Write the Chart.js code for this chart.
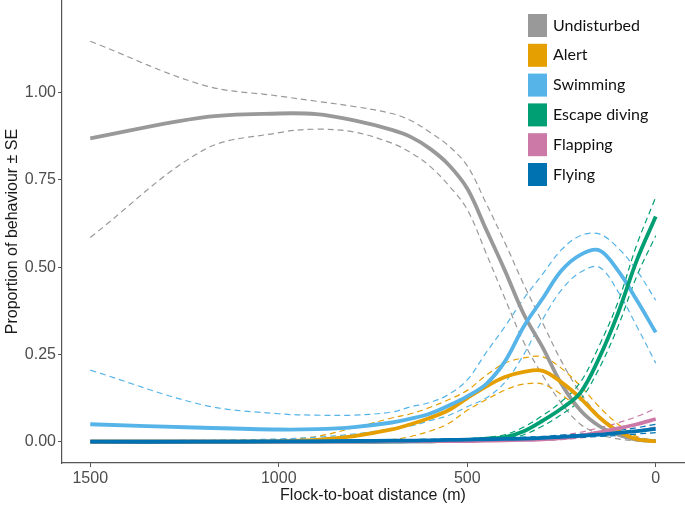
<!DOCTYPE html>
<html>
<head>
<meta charset="utf-8">
<script src="https://cdn.jsdelivr.net/npm/chart.js@4"></script>
<style>
  html, body { margin: 0; padding: 0; background: #fff; }
  #chart { display: block; }
</style>
</head>
<body>
<canvas id="chart" width="685" height="509"></canvas>
<script>
// Flock-to-boat distance (m), from far to near
const distances = [1500, 1200, 1000, 900, 800, 700, 650, 600, 550, 500, 450, 400, 350, 300, 250, 200, 150, 100, 50, 0];

const behaviours = ['Undisturbed', 'Alert', 'Swimming', 'Escape diving', 'Flapping', 'Flying'];
const colours = ['#999999', '#E69F00', '#56B4E9', '#009E73', '#CC79A7', '#0072B2'];

// mean proportion per behaviour
const undisturbed = [0.869, 0.929, 0.940, 0.938, 0.920, 0.893, 0.873, 0.840, 0.794, 0.725, 0.608, 0.490, 0.365, 0.270, 0.165, 0.090, 0.045, 0.020, 0.006, 0.002];
const alert       = [0.000, 0.000, 0.001, 0.005, 0.016, 0.035, 0.050, 0.068, 0.090, 0.125, 0.158, 0.185, 0.200, 0.203, 0.170, 0.125, 0.070, 0.030, 0.007, 0.001];
const swimming    = [0.050, 0.040, 0.035, 0.036, 0.042, 0.055, 0.066, 0.080, 0.103, 0.130, 0.165, 0.230, 0.330, 0.410, 0.490, 0.535, 0.548, 0.490, 0.405, 0.313];
const escape      = [0.000, 0.000, 0.000, 0.000, 0.000, 0.000, 0.001, 0.001, 0.003, 0.005, 0.009, 0.013, 0.030, 0.060, 0.095, 0.140, 0.240, 0.368, 0.520, 0.645];
const flapping    = [0.000, 0.000, 0.000, 0.000, 0.000, 0.001, 0.001, 0.001, 0.002, 0.002, 0.003, 0.004, 0.005, 0.007, 0.010, 0.017, 0.027, 0.038, 0.050, 0.065];
const flying      = [0.000, 0.000, 0.001, 0.001, 0.002, 0.003, 0.003, 0.004, 0.005, 0.006, 0.007, 0.008, 0.009, 0.011, 0.014, 0.017, 0.020, 0.025, 0.030, 0.037];

// mean + SE
const undisturbedHi = [1.147, 1.021, 0.990, 0.975, 0.960, 0.940, 0.920, 0.887, 0.848, 0.790, 0.683, 0.570, 0.450, 0.340, 0.230, 0.140, 0.075, 0.035, 0.012, 0.004];
const alertHi       = [0.000, 0.002, 0.006, 0.015, 0.040, 0.068, 0.080, 0.098, 0.120, 0.147, 0.190, 0.225, 0.240, 0.243, 0.210, 0.160, 0.100, 0.050, 0.015, 0.003];
const swimmingHi    = [0.205, 0.105, 0.080, 0.076, 0.076, 0.085, 0.100, 0.112, 0.135, 0.177, 0.255, 0.330, 0.410, 0.480, 0.550, 0.590, 0.595, 0.555, 0.490, 0.405];
const escapeHi      = [0.001, 0.001, 0.001, 0.001, 0.001, 0.002, 0.002, 0.003, 0.005, 0.008, 0.012, 0.020, 0.042, 0.075, 0.115, 0.170, 0.275, 0.400, 0.565, 0.700];
const flappingHi    = [0.001, 0.001, 0.001, 0.001, 0.002, 0.002, 0.002, 0.003, 0.003, 0.003, 0.005, 0.006, 0.008, 0.012, 0.018, 0.027, 0.040, 0.054, 0.072, 0.095];
const flyingHi      = [0.002, 0.002, 0.003, 0.003, 0.004, 0.005, 0.006, 0.007, 0.008, 0.009, 0.010, 0.011, 0.013, 0.015, 0.019, 0.022, 0.026, 0.032, 0.040, 0.050];

// mean - SE
const undisturbedLo = [0.585, 0.835, 0.885, 0.895, 0.887, 0.855, 0.828, 0.790, 0.735, 0.665, 0.540, 0.410, 0.285, 0.190, 0.110, 0.050, 0.022, 0.008, 0.002, 0.000];
const alertLo       = [0.000, 0.000, 0.000, 0.001, 0.002, 0.006, 0.015, 0.030, 0.052, 0.090, 0.120, 0.148, 0.165, 0.165, 0.135, 0.090, 0.045, 0.018, 0.003, 0.000];
const swimmingLo    = [0.003, 0.004, 0.008, 0.013, 0.022, 0.037, 0.045, 0.060, 0.075, 0.100, 0.125, 0.170, 0.250, 0.350, 0.435, 0.485, 0.500, 0.430, 0.330, 0.225];
const escapeLo      = [0.000, 0.000, 0.000, 0.000, 0.000, 0.000, 0.000, 0.000, 0.001, 0.003, 0.005, 0.008, 0.020, 0.045, 0.078, 0.120, 0.210, 0.330, 0.475, 0.590];
const flappingLo    = [0.000, 0.000, 0.000, 0.000, 0.000, 0.000, 0.000, 0.000, 0.001, 0.001, 0.001, 0.002, 0.003, 0.004, 0.006, 0.011, 0.018, 0.025, 0.033, 0.042];
const flyingLo      = [0.000, 0.000, 0.000, 0.000, 0.001, 0.001, 0.001, 0.002, 0.002, 0.003, 0.004, 0.005, 0.006, 0.008, 0.010, 0.012, 0.015, 0.018, 0.022, 0.026];

const xTicks = [0, 500, 1000, 1500];
const yTicks = [0, 0.25, 0.5, 0.75, 1.0];

const means = [undisturbed, alert, swimming, escape, flapping, flying];
const highs = [undisturbedHi, alertHi, swimmingHi, escapeHi, flappingHi, flyingHi];
const lows  = [undisturbedLo, alertLo, swimmingLo, escapeLo, flappingLo, flyingLo];

function toPoints(values) {
    return distances.map((d, i) => ({ x: d, y: values[i] }));
}

// dashed SE lines first, solid means on top
const datasets = [];
behaviours.forEach((name, b) => {
    [highs[b], lows[b]].forEach(vals => {
        datasets.push({
            label: name + ' SE',
            data: toPoints(vals),
            borderColor: colours[b],
            borderWidth: 1.2,
            borderDash: [6, 4],
            pointRadius: 0,
            tension: 0.35
        });
    });
});
behaviours.forEach((name, b) => {
    datasets.push({
        label: name,
        data: toPoints(means[b]),
        borderColor: colours[b],
        borderWidth: 3.8,
        pointRadius: 0,
        tension: 0.35
    });
});
datasets.forEach((ds, i) => { ds.order = -i; });

// legend drawn inside the plot, top right
const boxLegend = {
    id: 'boxLegend',
    afterDraw(chart) {
        const ctx = chart.ctx;
        ctx.save();
        ctx.font = '16px Lato, "Open Sans", sans-serif';
        ctx.textBaseline = 'middle';
        behaviours.forEach((name, b) => {
            const top = 14 + b * 29.8;
            ctx.fillStyle = colours[b];
            ctx.fillRect(528, top, 19, 23);
            ctx.fillStyle = '#111';
            ctx.fillText(name, 553, top + 11.5);
        });
        ctx.restore();
    }
};

const axisFont = { family: '"Liberation Sans", Arial, sans-serif', size: 16 };

new Chart(document.getElementById('chart'), {
    type: 'line',
    data: { datasets: datasets },
    options: {
        responsive: false,
        animation: false,
        devicePixelRatio: 1,
        layout: { padding: { top: 0, right: 1, bottom: 0, left: 0 } },
        plugins: { legend: { display: false }, tooltip: { enabled: false } },
        scales: {
            x: {
                type: 'linear',
                reverse: true,
                min: -75,
                max: 1575,
                afterBuildTicks: axis => { axis.ticks = xTicks.map(v => ({ value: v })); },
                afterFit: axis => { axis.height = 46; axis.paddingLeft = 0; axis.paddingRight = 0; },
                grid: { drawOnChartArea: false, drawTicks: true, tickLength: 4, color: '#555', lineWidth: 1 },
                border: { display: true, color: '#555', width: 1.2 },
                ticks: { font: axisFont, color: '#4D4D4D', padding: 2, maxRotation: 0, callback: v => String(v) },
                title: { display: true, text: 'Flock-to-boat distance (m)', font: axisFont, color: '#1a1a1a', padding: { top: 0, bottom: 4 } }
            },
            y: {
                type: 'linear',
                min: -0.061,
                max: 1.265,
                afterBuildTicks: axis => { axis.ticks = yTicks.map(v => ({ value: v })); },
                afterFit: axis => { axis.width = 62; axis.paddingTop = 0; axis.paddingBottom = 0; },
                grid: { drawOnChartArea: false, drawTicks: true, tickLength: 4, color: '#555', lineWidth: 1 },
                border: { display: true, color: '#555', width: 1.2 },
                ticks: { font: axisFont, color: '#4D4D4D', padding: 2, callback: v => v.toFixed(2) },
                title: { display: true, text: 'Proportion of behaviour ± SE', font: axisFont, color: '#1a1a1a', padding: { top: 3, bottom: 0 } }
            }
        }
    },
    plugins: [boxLegend]
});
</script>
</body>
</html>
